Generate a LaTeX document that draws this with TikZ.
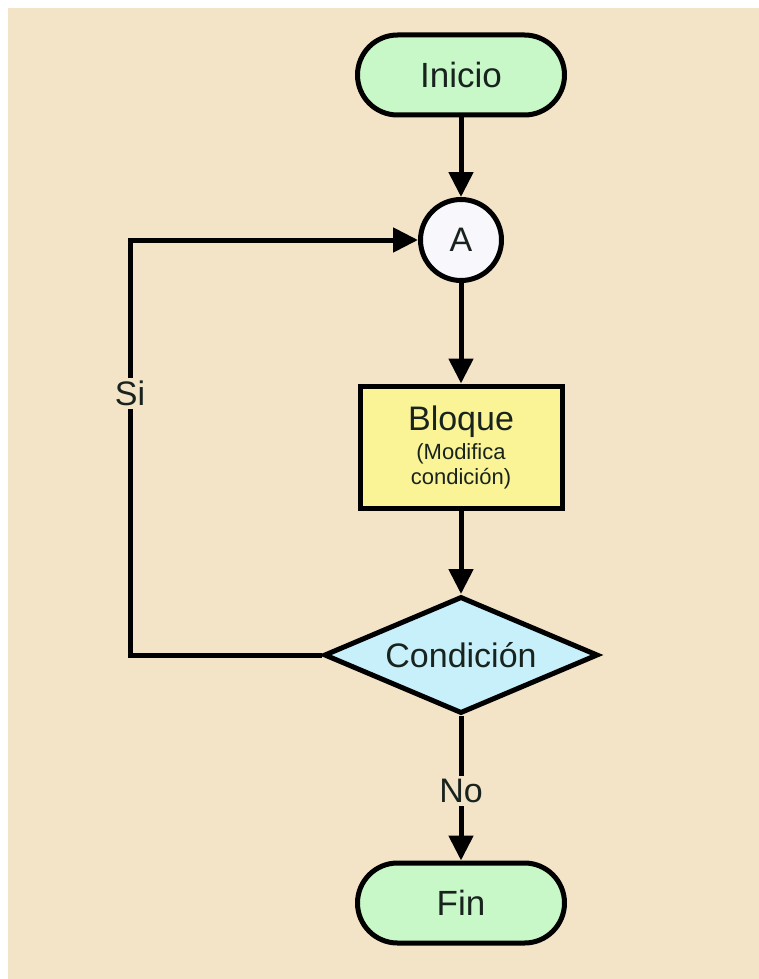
\documentclass[tikz,border=0pt]{standalone}
\usepackage{fontspec}
\setmainfont{Liberation Sans}
\usetikzlibrary{arrows.meta,shapes.geometric,shapes.misc}
\definecolor{fondo}{RGB}{243,228,200}
\definecolor{verde}{RGB}{200,248,200}
\definecolor{amarillo}{RGB}{250,244,150}
\definecolor{celeste}{RGB}{200,240,250}
\definecolor{blanco}{RGB}{248,248,252}
\definecolor{tinta}{RGB}{25,35,30}

\begin{document}
\begin{tikzpicture}[x=1pt,y=-1pt,line width=5pt,
  terminal/.style={rounded rectangle,draw,fill=verde,text=tinta,inner sep=0pt,
    minimum width=207pt,minimum height=80pt,font=\fontsize{35}{40}\selectfont},
  conector/.style={circle,draw,fill=blanco,text=tinta,inner sep=0pt,
    minimum size=81pt,font=\fontsize{34}{38}\selectfont},
  bloque/.style={rectangle,draw,fill=amarillo,text=tinta,inner sep=0pt,align=center,
    minimum width=202pt,minimum height=122pt,font=\fontsize{22}{25}\selectfont},
  decision/.style={diamond,draw,fill=celeste,text=tinta,inner sep=0pt,aspect=2.3,
    minimum width=274pt,minimum height=117pt,font=\fontsize{34}{38}\selectfont},
  etiq/.style={fill=fondo,text=tinta,inner sep=3pt,font=\fontsize{34}{38}\selectfont},
  flecha/.style={-{Triangle[length=25pt,width=24pt]}}]
% fondo
\useasboundingbox (0,0) rectangle (759,979);
\fill[fondo] (8,8) rectangle (759,979);
% nodos
\node[terminal] (inicio) at (461,75) {Inicio};
\node[conector] (a) at (461,240) {A};
\node[bloque] (bloque) at (461,447)
  {{\fontsize{34}{34}\selectfont Bloque}\\[4pt](Modifica\\condición)};
\node[decision] (cond) at (461,655) {Condición};
\node[terminal] (fin) at (461,903) {Fin};
% esquinas del lazo
\coordinate (esq1) at (130,655);
\coordinate (esq2) at (esq1 |- a.west);
% conexiones
\draw[flecha] (inicio) -- (a);
\draw[flecha] (a) -- (bloque);
\draw[flecha] (bloque) -- (cond);
\draw[flecha] (cond.south) -- node[etiq,pos=0.52] {No} (fin.north);
\draw[flecha] (cond.west) -- (esq1) -- node[etiq,pos=0.63] {Si} (esq2) -- (a.west);
\end{tikzpicture}
\end{document}
